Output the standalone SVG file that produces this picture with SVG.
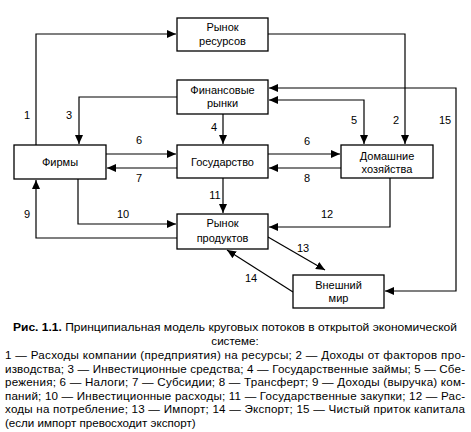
<svg xmlns="http://www.w3.org/2000/svg" width="471" height="432" viewBox="0 0 471 432">
<style>
.box{fill:#fff;stroke:#000;stroke-width:1.3}
.t{font-family:"Liberation Sans",Arial,sans-serif;font-size:11px;fill:#000;text-anchor:middle}
.c{font-family:"Liberation Sans",Arial,sans-serif;font-size:11.6px;fill:#000}
.ln{fill:none;stroke:#000;stroke-width:1.2}
</style>
<defs>
<marker id="a" markerUnits="userSpaceOnUse" markerWidth="10" markerHeight="8" refX="9" refY="4" orient="auto-start-reverse">
<path d="M0,0 L9,4 L0,8 Z" fill="#000"/>
</marker>
</defs>
<rect width="471" height="432" fill="#fff"/>
<g id="connectors">
<path class="ln" d="M36,145 V34 H176" marker-end="url(#a)"/>
<path class="ln" d="M268,34 H405 V144" marker-end="url(#a)"/>
<path class="ln" d="M177,97 H79 V144" marker-end="url(#a)"/>
<path class="ln" d="M223,114 V144" marker-end="url(#a)"/>
<path class="ln" d="M269,100 H364 V144" marker-start="url(#a)" marker-end="url(#a)"/>
<path class="ln" d="M269,88 H456 V291 H385" marker-start="url(#a)" marker-end="url(#a)"/>
<path class="ln" d="M106,154 H176" marker-end="url(#a)"/>
<path class="ln" d="M177,168 H107" marker-end="url(#a)"/>
<path class="ln" d="M268,154 H340" marker-end="url(#a)"/>
<path class="ln" d="M341,168 H269" marker-end="url(#a)"/>
<path class="ln" d="M223,178 V213" marker-end="url(#a)"/>
<path class="ln" d="M78,179 V224 H176" marker-end="url(#a)"/>
<path class="ln" d="M177,238 H36 V180" marker-end="url(#a)"/>
<path class="ln" d="M390,178 V227 H269" marker-end="url(#a)"/>
<path class="ln" d="M268,237 L325,270" marker-end="url(#a)"/>
<path class="ln" d="M293,292 L227,250" marker-end="url(#a)"/>
</g>
<g id="labels" class="t">
<text x="27" y="119">1</text>
<text x="69" y="119">3</text>
<text x="214" y="131">4</text>
<text x="354" y="124">5</text>
<text x="396" y="124">2</text>
<text x="445" y="124">15</text>
<text x="139" y="144">6</text>
<text x="307" y="145">6</text>
<text x="139" y="182">7</text>
<text x="307" y="182">8</text>
<text x="215" y="199">11</text>
<text x="123" y="218">10</text>
<text x="27" y="218">9</text>
<text x="327" y="218">12</text>
<text x="303" y="252">13</text>
<text x="251" y="282">14</text>
</g>
<g id="n-resursy">
<rect class="box" x="177" y="18" width="91" height="33"/>
<text class="t" x="222.5" y="31">Рынок</text>
<text class="t" x="222.5" y="45">ресурсов</text>
</g>
<g id="n-finrynki">
<rect class="box" x="177" y="80" width="91" height="34"/>
<text class="t" x="222.5" y="94">Финансовые</text>
<text class="t" x="222.5" y="107">рынки</text>
</g>
<g id="n-firmy">
<rect class="box" x="14" y="145" width="92" height="34"/>
<text class="t" x="60" y="166">Фирмы</text>
</g>
<g id="n-gos">
<rect class="box" x="177" y="145" width="91" height="33"/>
<text class="t" x="222.5" y="166">Государство</text>
</g>
<g id="n-dom">
<rect class="box" x="341" y="145" width="92" height="33"/>
<text class="t" x="387" y="160">Домашние</text>
<text class="t" x="387" y="173">хозяйства</text>
</g>
<g id="n-produkty">
<rect class="box" x="177" y="214" width="91" height="35"/>
<text class="t" x="222.5" y="227">Рынок</text>
<text class="t" x="222.5" y="242">продуктов</text>
</g>
<g id="n-vneshniy">
<rect class="box" x="293" y="275" width="91" height="33"/>
<text class="t" x="338.5" y="289">Внешний</text>
<text class="t" x="338.5" y="302">мир</text>
</g>
<g id="caption" class="c">
<text x="13" y="331" textLength="444" lengthAdjust="spacingAndGlyphs"><tspan font-weight="bold">Рис. 1.1.</tspan> Принципиальная модель круговых потоков в открытой экономической</text>
<text x="235" y="345" text-anchor="middle">системе:</text>
<text x="5" y="359" textLength="460" lengthAdjust="spacing">1 — Расходы компании (предприятия) на ресурсы; 2 — Доходы от факторов про-</text>
<text x="5" y="373" textLength="460" lengthAdjust="spacing">изводства; 3 — Инвестиционные средства; 4 — Государственные займы; 5 — Сбе-</text>
<text x="5" y="386" textLength="460" lengthAdjust="spacing">режения; 6 — Налоги; 7 — Субсидии; 8 — Трансферт; 9 — Доходы (выручка) ком-</text>
<text x="5" y="400" textLength="460" lengthAdjust="spacing">паний; 10 — Инвестиционные расходы; 11 — Государственные закупки; 12 — Рас-</text>
<text x="5" y="413" textLength="460" lengthAdjust="spacing">ходы на потребление; 13 — Импорт; 14 — Экспорт; 15 — Чистый приток капитала</text>
<text x="5" y="427">(если импорт превосходит экспорт)</text>
</g>
</svg>
